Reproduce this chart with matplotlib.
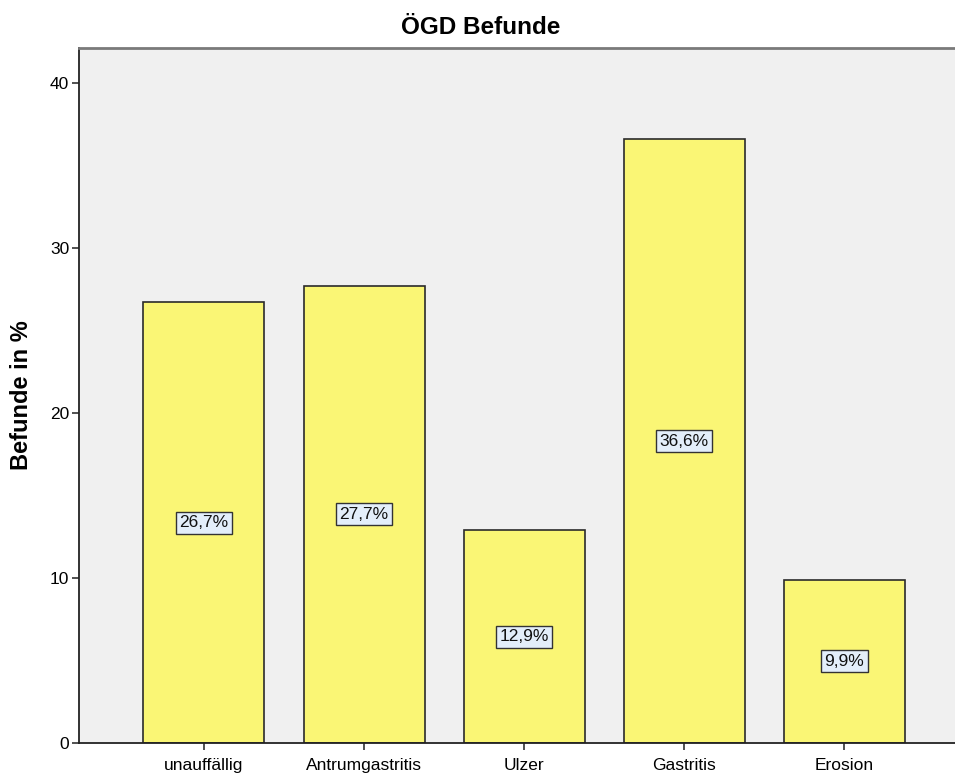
import matplotlib
matplotlib.use("Agg")
import matplotlib.pyplot as plt

categories = ["unauffällig", "Antrumgastritis", "Ulzer", "Gastritis", "Erosion"]
values = [26.7, 27.7, 12.9, 36.6, 9.9]
yticks = [0, 10, 20, 30, 40]

plt.rcParams["font.family"] = ["Liberation Sans", "DejaVu Sans"]

fig = plt.figure(figsize=(9.55, 7.76), dpi=100)
ax = fig.add_axes([79 / 955, 33 / 776, 1 - 79 / 955, (743 - 48) / 776])
ax.set_facecolor("#F0F0F0")

x = list(range(len(categories)))
ax.bar(x, values, width=0.755, color="#FAF675", edgecolor="#2b2b2b", linewidth=1.2, zorder=2)

for xi, v in zip(x, values):
    ax.text(xi, v / 2, f"{v:.1f}%".replace(".", ","), ha="center", va="center",
            fontsize=12.5, color="#111111", zorder=3,
            bbox=dict(boxstyle="square,pad=0.2", facecolor="#E3EEFA",
                      edgecolor="#333333", linewidth=1.0))

ax.set_xlim(-0.78, 4.69)
ax.set_ylim(0, 42.12)
ax.set_yticks(yticks)
ax.set_xticks(x)
ax.set_xticklabels(categories, fontsize=12.5)
ax.tick_params(axis="y", labelsize=12.5, length=5, width=1.2, color="#333333", pad=2)
ax.tick_params(axis="x", length=5, width=1.2, color="#333333", pad=6)

for side in ["left", "bottom"]:
    ax.spines[side].set_color("#222222")
    ax.spines[side].set_linewidth(1.3)
ax.spines["top"].set_color("#7a7a7a")
ax.spines["top"].set_linewidth(2)
ax.spines["right"].set_visible(False)

ax.set_ylabel("Befunde in %", fontsize=17, fontweight="bold", labelpad=12)
fig.text(481 / 955, 1 - 28 / 776, "ÖGD Befunde", ha="center", va="center",
         fontsize=17.5, fontweight="bold")

fig.savefig("out.png", dpi=100)
